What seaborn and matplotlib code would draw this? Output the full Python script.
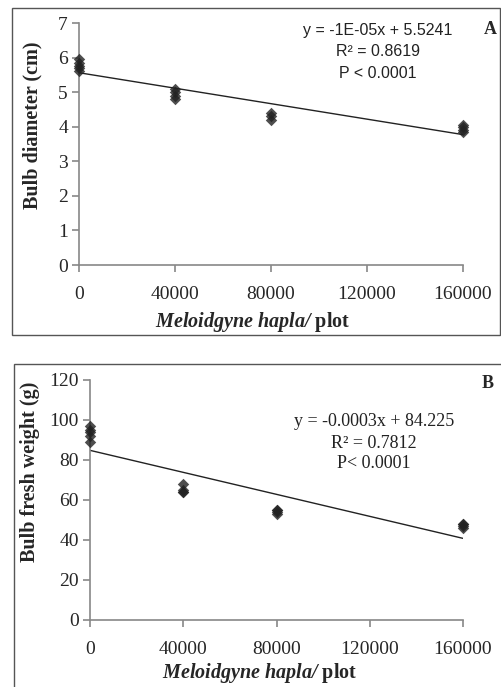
import numpy as np
import pandas as pd
import matplotlib
matplotlib.use("Agg")
import matplotlib.pyplot as plt
import seaborn as sns
from matplotlib.patches import Rectangle

sns.set_style("white")
plt.rcParams["font.family"] = ["Liberation Serif", "DejaVu Serif"]
plt.rcParams["mathtext.fontset"] = "custom"
plt.rcParams["mathtext.rm"] = "Liberation Serif"
plt.rcParams["mathtext.it"] = "Liberation Serif:italic"
plt.rcParams["mathtext.bf"] = "Liberation Serif:bold"
plt.rcParams["mathtext.bfit"] = "Liberation Serif:bold:italic"

# nematode inoculum levels (per plot)
nema_a = [0, 0, 0, 0, 0, 40000, 40000, 40000, 40000, 80000, 80000, 80000, 160000, 160000, 160000, 160000]
diam = [5.6, 5.7, 5.75, 5.85, 5.95, 4.8, 4.9, 5.0, 5.1, 4.2, 4.3, 4.4, 3.85, 3.9, 4.0, 4.05]

nema_b = [0, 0, 0, 0, 0, 40000, 40000, 40000, 40000, 80000, 80000, 80000, 80000, 160000, 160000, 160000, 160000]
weight = [89, 92, 94, 95, 97, 64, 64, 65, 68, 53, 54, 55, 55, 46, 47, 48, 48]

xticks = [0, 40000, 80000, 120000, 160000]
yticks_a = [0, 1, 2, 3, 4, 5, 6, 7]
yticks_b = [0, 20, 40, 60, 80, 100, 120]

txt_a = ["y = -1E-05x + 5.5241", "R\u00b2 = 0.8619", "P < 0.0001"]
txt_b = ["y = -0.0003x + 84.225", "R\u00b2 = 0.7812", "P< 0.0001"]

df_a = pd.DataFrame({"nema": nema_a, "diam": diam})
df_b = pd.DataFrame({"nema": nema_b, "weight": weight})

fig = plt.figure(figsize=(5.02, 6.87), dpi=100)
W, H = 502, 687

# panel frames (pixel coords, from top)
fig.patches.append(Rectangle((12 / W, 1 - 335 / H), 488 / W, 327 / H, transform=fig.transFigure,
                             fill=False, edgecolor="#555555", linewidth=1.0))
fig.patches.append(Rectangle((14 / W, -0.01), 1.0, 1 - 364 / H + 0.01, transform=fig.transFigure,
                             fill=False, edgecolor="#555555", linewidth=1.0))

ax_a = fig.add_axes([79 / W, 1 - 265 / H, 384 / W, 242 / H])
ax_b = fig.add_axes([90 / W, 1 - 620 / H, 373 / W, 240 / H])

scatter_kws = {"s": 34, "color": "#222222", "clip_on": False, "zorder": 3, "linewidths": 0}
line_kws = {"color": "#222222", "linewidth": 1.0}

sns.regplot(data=df_a, x="nema", y="diam", ax=ax_a, ci=None, marker="D",
            scatter_kws=scatter_kws, line_kws=line_kws)
sns.regplot(data=df_b, x="nema", y="weight", ax=ax_b, ci=None, marker="D",
            scatter_kws=scatter_kws, line_kws=line_kws)

xlab = r"$\mathbfit{Meloidgyne\ hapla/}$ plot"

panels = [
    (ax_a, yticks_a, "Bulb diameter (cm)", (0.453, -0.236), (-0.122, 0.579)),
    (ax_b, yticks_b, "Bulb fresh weight (g)", (0.456, -0.221), (-0.161, 0.617)),
]
for ax, yt, ylab, xl_pos, yl_pos in panels:
    ax.set_xlim(0, 160000)
    ax.set_ylim(yt[0], yt[-1])
    ax.set_xticks(xticks)
    ax.set_yticks(yt)
    ax.set_xticklabels([str(v) for v in xticks], fontsize=14)
    ax.set_yticklabels([str(v) for v in yt], fontsize=14)
    for s in ["top", "right"]:
        ax.spines[s].set_visible(False)
    for s in ["left", "bottom"]:
        ax.spines[s].set_color("#888888")
        ax.spines[s].set_linewidth(1.2)
    ax.tick_params(axis="both", direction="out", length=5, width=1.2, color="#888888",
                   left=True, bottom=True)
    ax.tick_params(axis="x", pad=10)
    ax.tick_params(axis="y", pad=3)
    ax.set_ylabel(ylab, fontsize=14.5, fontweight="bold", va="center", ha="center")
    ax.set_xlabel(xlab, fontsize=14.5, fontweight="bold", va="center", ha="center")
    ax.xaxis.set_label_coords(*xl_pos)
    ax.yaxis.set_label_coords(*yl_pos)
    ax.patch.set_alpha(0)

# equation text
for i, t in enumerate(txt_a):
    fig.text(378 / W, 1 - (30 + 22 * i) / H, t, ha="center", va="center", fontsize=11.5,
             family=["Liberation Sans", "DejaVu Sans"], color="#222222")
for i, t in enumerate(txt_b):
    fig.text(374 / W, 1 - (422 + 21 * i) / H, t, ha="center", va="center", fontsize=13,
             color="#222222")

fig.text(490 / W, 1 - 30 / H, "A", ha="center", va="center", fontsize=13, fontweight="bold")
fig.text(488 / W, 1 - 383 / H, "B", ha="center", va="center", fontsize=13, fontweight="bold")

fig.savefig("out.png", dpi=100, facecolor="white")
